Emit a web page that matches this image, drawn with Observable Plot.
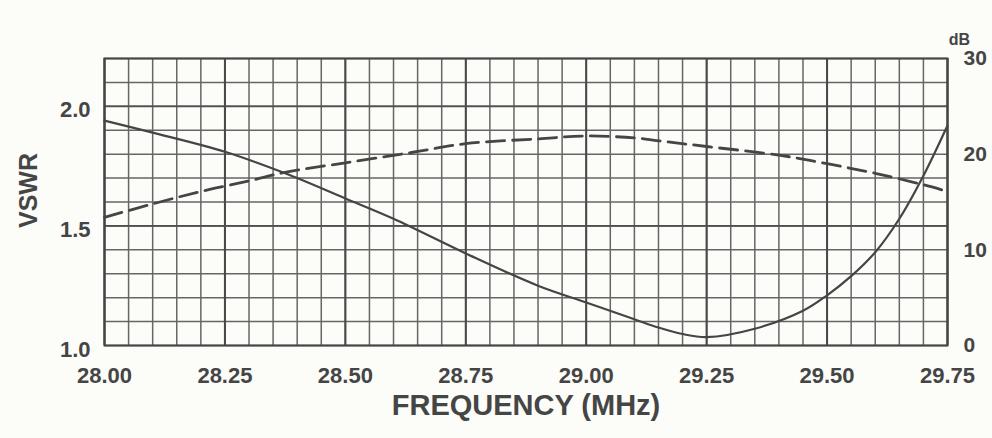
<!DOCTYPE html>
<html>
<head>
<meta charset="utf-8">
<script src="https://cdn.jsdelivr.net/npm/d3@7"></script>
<script src="https://cdn.jsdelivr.net/npm/@observablehq/plot@0.6"></script>
<style>
  html, body { margin: 0; padding: 0; background: #fcfcf8; }
  #chart svg { display: block; background: #fcfcf8; }
</style>
</head>
<body>
<div id="chart"></div>
<script>
// Frequency tick labels (MHz)
const xTicks = [28.00, 28.25, 28.50, 28.75, 29.00, 29.25, 29.50, 29.75];
// VSWR tick labels (left axis)
const vswrTicks = [1.0, 1.5, 2.0];
// dB tick labels (right axis)
const dbTicks = [0, 10, 20, 30];

// VSWR curve (solid)
const vswrFreq = [28.00, 28.10, 28.25, 28.375, 28.50, 28.60, 28.75, 28.90, 29.00, 29.10, 29.15, 29.20, 29.25, 29.35, 29.45, 29.50, 29.55, 29.60, 29.65, 29.70, 29.75];
const vswrVal  = [1.94, 1.89, 1.81, 1.72, 1.615, 1.53, 1.385, 1.25, 1.18, 1.11, 1.075, 1.048, 1.035, 1.07, 1.145, 1.21, 1.29, 1.39, 1.53, 1.71, 1.92];

// dB curve (dashed)
const dbFreq = [28.00, 28.10, 28.20, 28.30, 28.375, 28.50, 28.64, 28.75, 28.90, 29.00, 29.10, 29.15, 29.25, 29.40, 29.50, 29.60, 29.70, 29.75];
const dbVal  = [13.4, 14.8, 16.1, 17.2, 18.1, 19.1, 20.2, 21.1, 21.6, 21.9, 21.7, 21.4, 20.8, 19.9, 19.0, 18.0, 16.8, 16.1];

// dB axis maps 0..30 onto VSWR 1.0..2.2
const dbToV = d => 1 + d * 0.04;

const vswrData = vswrFreq.map((f, i) => ({f, v: vswrVal[i]}));
const dbData = dbFreq.map((f, i) => ({f, db: dbVal[i]}));

const minorX = d3.range(0, 36).map(i => 28 + i * 0.05);
const minorY = d3.range(0, 13).map(i => 1 + i * 0.1);
const majorX = xTicks;
const majorY = [1.5, 2.0];

const ink = "#454545";
const font = "'Liberation Sans', Arial, Helvetica, sans-serif";

const chart = Plot.plot({
  width: 992,
  height: 438,
  marginLeft: 104,
  marginRight: 45,
  marginTop: 58,
  marginBottom: 93,
  style: {fontFamily: font, fontWeight: "bold", color: ink, background: "#fcfcf8"},
  x: {domain: [28, 29.75]},
  y: {domain: [1.0, 2.2]},
  marks: [
    Plot.ruleX(minorX, {stroke: "#666", strokeWidth: 1.5}),
    Plot.ruleY(minorY, {stroke: "#666", strokeWidth: 1.5}),
    Plot.ruleX(majorX, {stroke: "#484848", strokeWidth: 2}),
    Plot.ruleY(majorY, {stroke: "#505050", strokeWidth: 1.8}),
    Plot.frame({stroke: "#444", strokeWidth: 2}),
    Plot.line(vswrData, {x: "f", y: "v", curve: "catmull-rom", stroke: ink, strokeWidth: 2.2}),
    Plot.line(dbData, {x: "f", y: d => dbToV(d.db), curve: "catmull-rom", stroke: ink, strokeWidth: 2.8, strokeDasharray: "18,8"}),
    Plot.axisX({ticks: xTicks, tickFormat: d3.format(".2f"), tickSize: 0, tickPadding: 22, fontSize: 22, fill: ink, label: null}),
    Plot.axisY({ticks: vswrTicks, tickFormat: d3.format(".1f"), anchor: "left", tickSize: 0, tickPadding: 14, fontSize: 22, fill: ink, dy: 4, label: null}),
    Plot.axisY({ticks: dbTicks.map(dbToV), tickFormat: v => String(Math.round((v - 1) / 0.04)), anchor: "right", tickSize: 0, tickPadding: 16, fontSize: 21, fill: ink, label: null}),
    Plot.text(["FREQUENCY (MHz)"], {frameAnchor: "bottom", dy: 60, fontSize: 29, fill: ink, fontWeight: "bold", lineAnchor: "middle"}),
    Plot.text(["VSWR"], {frameAnchor: "left", dx: -76, dy: 26, rotate: -90, fontSize: 25, fill: ink, fontWeight: "bold", lineAnchor: "middle"}),
    Plot.text(["dB"], {frameAnchor: "top-right", dx: 12, dy: -19, fontSize: 16, fill: ink, fontWeight: "bold", textAnchor: "middle", lineAnchor: "middle"})
  ]
});
document.getElementById("chart").appendChild(chart);
</script>
</body>
</html>
